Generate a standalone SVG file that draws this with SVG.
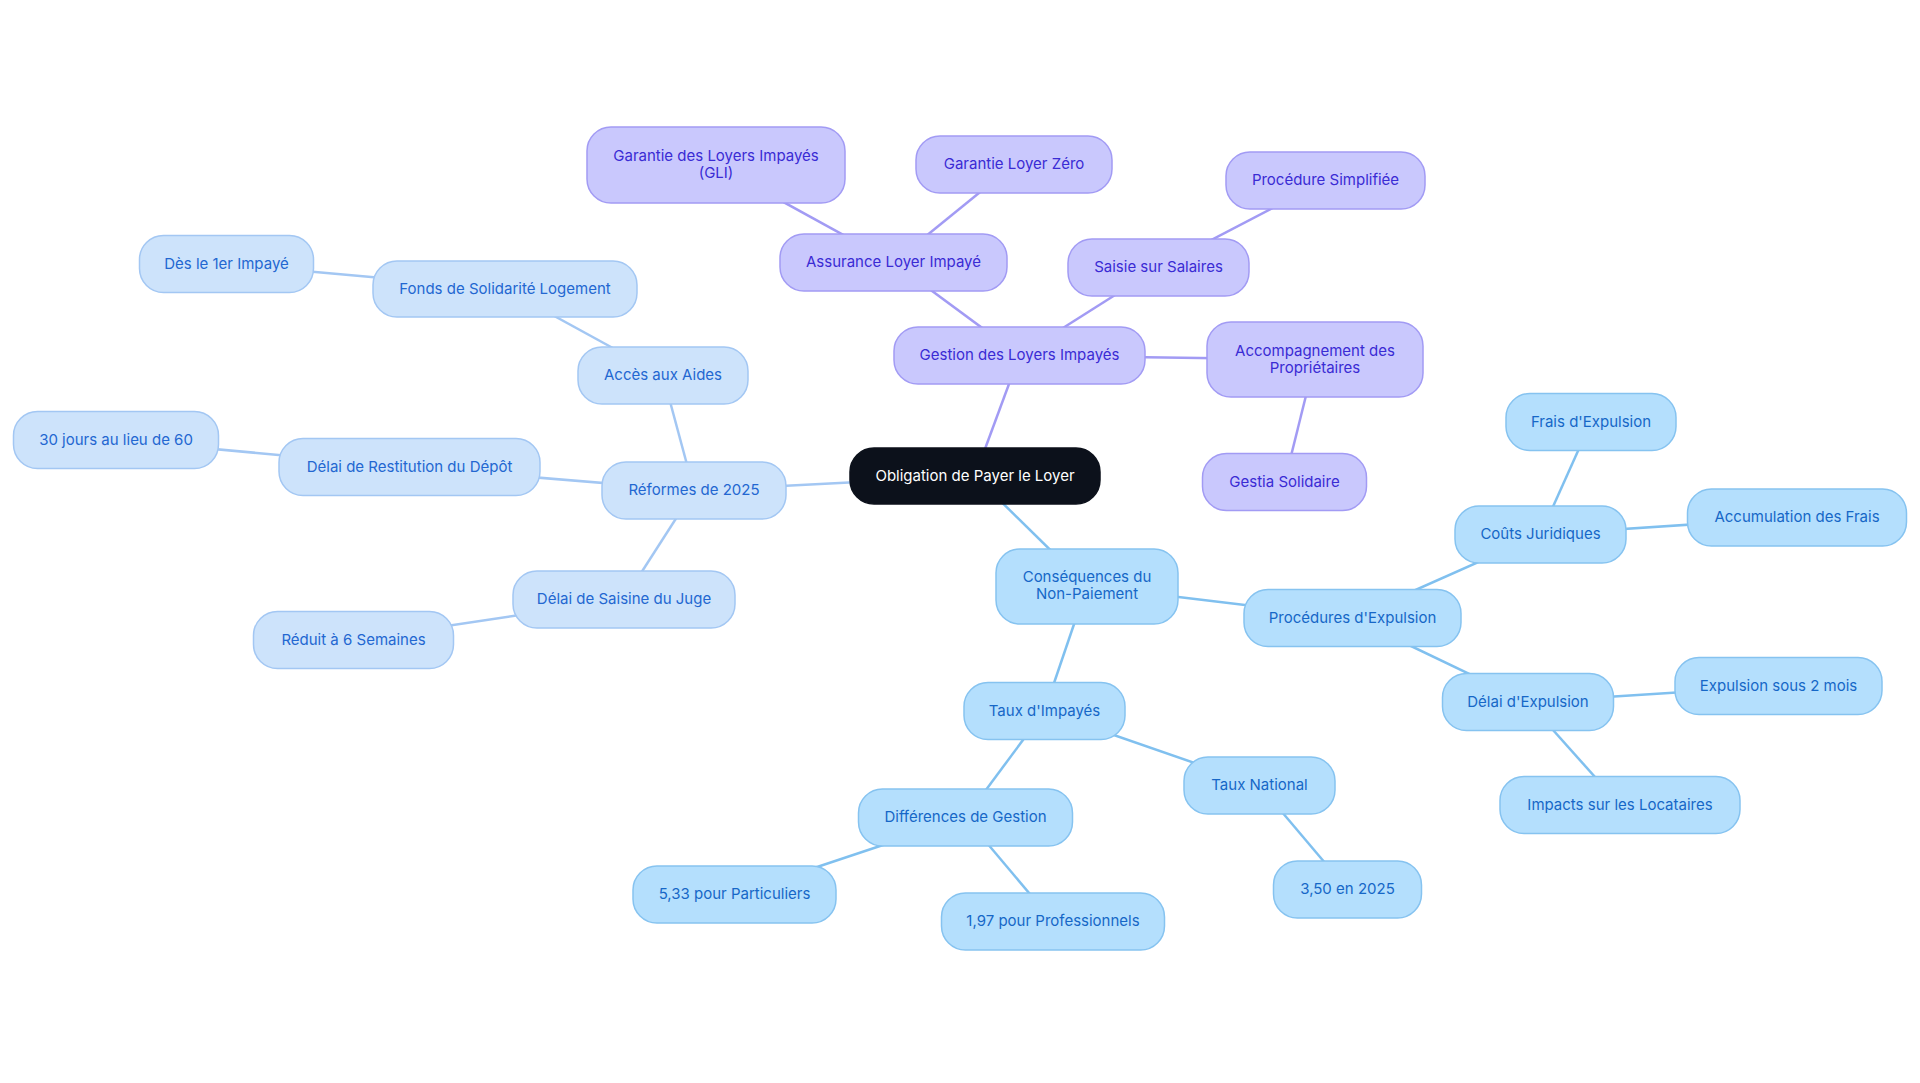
<svg xmlns="http://www.w3.org/2000/svg" width="1920" height="1083" viewBox="0 0 1920 1083">
<style>
text{font-family:Inter,"Noto Sans","Liberation Sans",sans-serif;font-size:15px;text-anchor:middle;dominant-baseline:central}
.c rect{fill:#0c111b;stroke:#0c111b;stroke-width:1.5}
.c text{fill:#ffffff}
.p rect{fill:#c9c8fd;stroke:#a29bf4;stroke-width:1.5}
.p text{fill:#3a2bd4}
.l rect{fill:#cde3fb;stroke:#a3c7f3;stroke-width:1.5}
.l text{fill:#2367d1}
.s rect{fill:#b4dffd;stroke:#86c3f0;stroke-width:1.5}
.s text{fill:#1667c7}
#edges line{stroke-width:2.5;fill:none}
.ep{stroke:#a29bf4}
.el{stroke:#a3c7f3}
.es{stroke:#80c0ef}
</style>
<rect width="1920" height="1083" fill="#ffffff"/>
<g id="edges">
<line class="ep" x1="975" y1="476" x2="1019.5" y2="355.5"/>
<line class="el" x1="975" y1="476" x2="694" y2="490.5"/>
<line class="es" x1="975" y1="476" x2="1087" y2="586"/>
<line class="ep" x1="1019.5" y1="355.5" x2="893.5" y2="262.5"/>
<line class="ep" x1="1019.5" y1="355.5" x2="1158.5" y2="267.5"/>
<line class="ep" x1="1019.5" y1="355.5" x2="1315" y2="359.5"/>
<line class="ep" x1="893.5" y1="262.5" x2="716" y2="165"/>
<line class="ep" x1="893.5" y1="262.5" x2="1014" y2="164.5"/>
<line class="ep" x1="1158.5" y1="267.5" x2="1325.5" y2="180.5"/>
<line class="ep" x1="1315" y1="359.5" x2="1284.5" y2="482"/>
<line class="el" x1="694" y1="490.5" x2="663" y2="375.5"/>
<line class="el" x1="694" y1="490.5" x2="409.7" y2="467"/>
<line class="el" x1="694" y1="490.5" x2="624" y2="599.5"/>
<line class="el" x1="663" y1="375.5" x2="505" y2="289"/>
<line class="el" x1="505" y1="289" x2="226.5" y2="264"/>
<line class="el" x1="409.7" y1="467" x2="116" y2="440"/>
<line class="el" x1="624" y1="599.5" x2="353" y2="640"/>
<line class="es" x1="1087" y1="586" x2="1352.5" y2="618"/>
<line class="es" x1="1087" y1="586" x2="1044.5" y2="711"/>
<line class="es" x1="1352.5" y1="618" x2="1540.5" y2="534.5"/>
<line class="es" x1="1352.5" y1="618" x2="1528" y2="702"/>
<line class="es" x1="1540.5" y1="534.5" x2="1591" y2="422"/>
<line class="es" x1="1540.5" y1="534.5" x2="1797" y2="517.5"/>
<line class="es" x1="1528" y1="702" x2="1778.5" y2="686"/>
<line class="es" x1="1528" y1="702" x2="1620" y2="805"/>
<line class="es" x1="1044.5" y1="711" x2="1259.5" y2="785.5"/>
<line class="es" x1="1044.5" y1="711" x2="965.5" y2="817.5"/>
<line class="es" x1="1259.5" y1="785.5" x2="1347.5" y2="889.5"/>
<line class="es" x1="965.5" y1="817.5" x2="734.6" y2="894.5"/>
<line class="es" x1="965.5" y1="817.5" x2="1053" y2="921.5"/>
</g>
<g id="n-center" class="c"><rect x="850" y="448" width="250" height="56" rx="24"/><text x="975" y="475">Obligation de Payer le Loyer</text></g>
<g id="n-gestion" class="p"><rect x="894" y="327" width="251" height="57" rx="24"/><text x="1019.5" y="354.5">Gestion des Loyers Impayés</text></g>
<g id="n-assurance" class="p"><rect x="780" y="234" width="227" height="57" rx="24"/><text x="893.5" y="261.5">Assurance Loyer Impayé</text></g>
<g id="n-gli" class="p"><rect x="587" y="127" width="258" height="76" rx="24"/><text x="716" y="155.5">Garantie des Loyers Impayés</text><text x="716" y="172.5">(GLI)</text></g>
<g id="n-zero" class="p"><rect x="916" y="136" width="196" height="57" rx="24"/><text x="1014" y="163.5">Garantie Loyer Zéro</text></g>
<g id="n-saisie" class="p"><rect x="1068" y="239" width="181" height="57" rx="24"/><text x="1158.5" y="266.5">Saisie sur Salaires</text></g>
<g id="n-simplifiee" class="p"><rect x="1226" y="152" width="199" height="57" rx="24"/><text x="1325.5" y="179.5">Procédure Simplifiée</text></g>
<g id="n-accomp" class="p"><rect x="1207" y="322" width="216" height="75" rx="24"/><text x="1315" y="350">Accompagnement des</text><text x="1315" y="367">Propriétaires</text></g>
<g id="n-gestia" class="p"><rect x="1202.5" y="453.5" width="164" height="57" rx="24"/><text x="1284.5" y="481">Gestia Solidaire</text></g>
<g id="n-reformes" class="l"><rect x="602" y="462" width="184" height="57" rx="24"/><text x="694" y="489.5">Réformes de 2025</text></g>
<g id="n-acces" class="l"><rect x="578" y="347" width="170" height="57" rx="24"/><text x="663" y="374.5">Accès aux Aides</text></g>
<g id="n-fonds" class="l"><rect x="373" y="261" width="264" height="56" rx="24"/><text x="505" y="288">Fonds de Solidarité Logement</text></g>
<g id="n-des" class="l"><rect x="139.5" y="235.5" width="174" height="57" rx="24"/><text x="226.5" y="263">Dès le 1er Impayé</text></g>
<g id="n-restitution" class="l"><rect x="279" y="438.5" width="261" height="57" rx="24"/><text x="409.5" y="466">Délai de Restitution du Dépôt</text></g>
<g id="n-30" class="l"><rect x="13.5" y="411.5" width="205" height="57" rx="24"/><text x="116" y="439">30 jours au lieu de 60</text></g>
<g id="n-saisine" class="l"><rect x="513" y="571" width="222" height="57" rx="24"/><text x="624" y="598.5">Délai de Saisine du Juge</text></g>
<g id="n-reduit" class="l"><rect x="253.5" y="611.5" width="200" height="57" rx="24"/><text x="353.5" y="639">Réduit à 6 Semaines</text></g>
<g id="n-consequences" class="s"><rect x="996" y="549" width="182" height="75" rx="24"/><text x="1087" y="576.5">Conséquences du</text><text x="1087" y="593.5">Non-Paiement</text></g>
<g id="n-procedures" class="s"><rect x="1244" y="589.5" width="217" height="57" rx="24"/><text x="1352.5" y="617">Procédures d'Expulsion</text></g>
<g id="n-couts" class="s"><rect x="1455" y="506" width="171" height="57" rx="24"/><text x="1540.5" y="533.5">Coûts Juridiques</text></g>
<g id="n-frais" class="s"><rect x="1506" y="393.5" width="170" height="57" rx="24"/><text x="1591" y="421">Frais d'Expulsion</text></g>
<g id="n-accum" class="s"><rect x="1687.5" y="489" width="219" height="57" rx="24"/><text x="1797" y="516.5">Accumulation des Frais</text></g>
<g id="n-delai-exp" class="s"><rect x="1442.5" y="673.5" width="171" height="57" rx="24"/><text x="1528" y="701">Délai d'Expulsion</text></g>
<g id="n-2mois" class="s"><rect x="1675" y="657.5" width="207" height="57" rx="24"/><text x="1778.5" y="685">Expulsion sous 2 mois</text></g>
<g id="n-impacts" class="s"><rect x="1500" y="776.5" width="240" height="57" rx="24"/><text x="1620" y="804">Impacts sur les Locataires</text></g>
<g id="n-taux" class="s"><rect x="964" y="682.5" width="161" height="57" rx="24"/><text x="1044.5" y="710">Taux d'Impayés</text></g>
<g id="n-national" class="s"><rect x="1184" y="757" width="151" height="57" rx="24"/><text x="1259.5" y="784.5">Taux National</text></g>
<g id="n-350" class="s"><rect x="1273.5" y="861" width="148" height="57" rx="24"/><text x="1347.5" y="888.5">3,50 en 2025</text></g>
<g id="n-diff" class="s"><rect x="858.5" y="789" width="214" height="57" rx="24"/><text x="965.5" y="816.5">Différences de Gestion</text></g>
<g id="n-533" class="s"><rect x="633" y="866" width="203" height="57" rx="24"/><text x="734.5" y="893.5">5,33 pour Particuliers</text></g>
<g id="n-197" class="s"><rect x="941.5" y="893" width="223" height="57" rx="24"/><text x="1053" y="920.5">1,97 pour Professionnels</text></g>
</svg>
